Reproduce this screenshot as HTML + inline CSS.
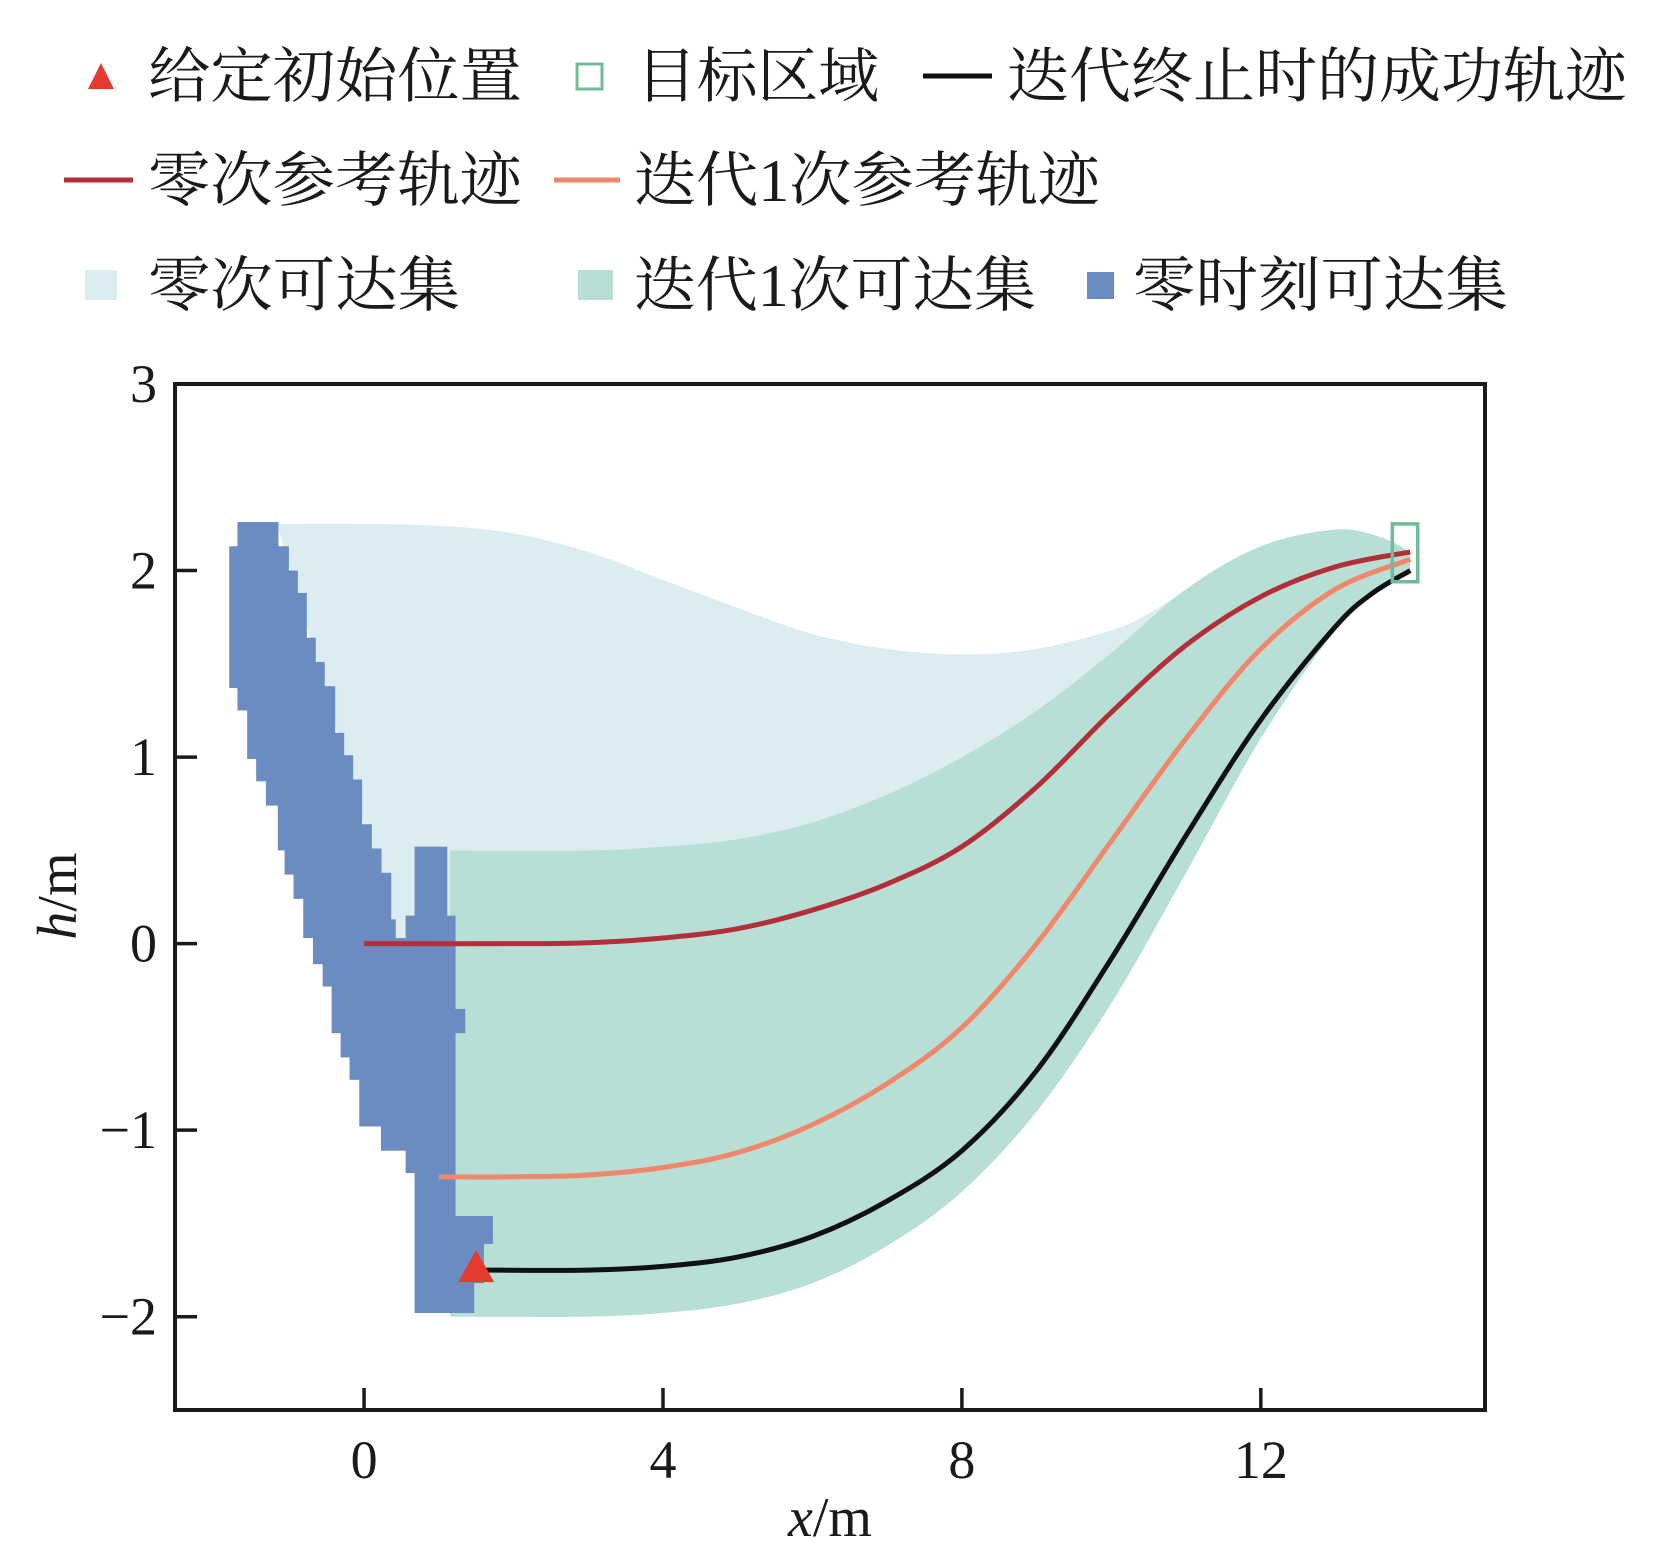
<!DOCTYPE html>
<html><head><meta charset="utf-8"><style>
html,body{margin:0;padding:0;background:#fff;}
svg{display:block;}
text{font-family:"Liberation Serif","Noto Serif CJK SC",serif;fill:#1a1a1a;}
</style></head><body>
<svg id="chart" width="1654" height="1543" viewBox="0 0 1654 1543" xmlns="http://www.w3.org/2000/svg">
<g id="legend">
  <g>
    <polygon points="101,63 88,89 114,89" fill="#e53a2e"/>
    <text x="148" y="97" font-size="60" textLength="374" lengthAdjust="spacingAndGlyphs">给定初始位置</text>
  </g>
  <g>
    <rect x="577" y="64" width="25" height="25" fill="none" stroke="#6fbc97" stroke-width="3"/>
    <text x="636" y="97" font-size="60" textLength="243" lengthAdjust="spacingAndGlyphs">目标区域</text>
  </g>
  <g>
    <line x1="923" y1="76" x2="992" y2="76" stroke="#111" stroke-width="5"/>
    <text x="1007" y="97" font-size="60" textLength="620" lengthAdjust="spacingAndGlyphs">迭代终止时的成功轨迹</text>
  </g>
  <g>
    <line x1="64" y1="180" x2="133" y2="180" stroke="#b22f3a" stroke-width="5"/>
    <text x="148" y="201" font-size="60" textLength="374" lengthAdjust="spacingAndGlyphs">零次参考轨迹</text>
  </g>
  <g>
    <line x1="554" y1="180" x2="620" y2="180" stroke="#f0866a" stroke-width="5"/>
    <text x="634" y="201" font-size="60" textLength="466" lengthAdjust="spacingAndGlyphs">迭代1次参考轨迹</text>
  </g>
  <g>
    <rect x="85" y="270" width="32" height="30" fill="#dcedf2"/>
    <text x="148" y="306" font-size="60" textLength="312" lengthAdjust="spacingAndGlyphs">零次可达集</text>
  </g>
  <g>
    <rect x="578" y="270" width="35" height="30" fill="#b7dfd5"/>
    <text x="634" y="306" font-size="60" textLength="402" lengthAdjust="spacingAndGlyphs">迭代1次可达集</text>
  </g>
  <g>
    <rect x="1087" y="272" width="27" height="27" fill="#6a8cc0"/>
    <text x="1133" y="306" font-size="60" textLength="375" lengthAdjust="spacingAndGlyphs">零时刻可达集</text>
  </g>
</g>
<g id="plot"></g>
</svg>
<script>
const xTicks = [0, 4, 8, 12];
const yTicks = [-2, -1, 0, 1, 2, 3];
const yTickLabels = ["−2", "−1", "0", "1", "2", "3"];
// light-blue zero-order reachable set top boundary
const lbTopX = [-1.15, 0, 1, 2, 3, 4, 5, 6, 7, 8, 9, 10, 10.5, 11];
const lbTopY = [2.25, 2.25, 2.24, 2.2, 2.1, 1.95, 1.8, 1.66, 1.58, 1.55, 1.58, 1.68, 1.77, 1.9];
// green iteration-1 reachable set
const gTopX = [1.15, 3, 4, 5, 6, 7, 8, 9, 10, 11, 12, 13, 13.6, 14];
const gTopY = [0.5, 0.5, 0.52, 0.56, 0.65, 0.8, 1.0, 1.25, 1.56, 1.9, 2.13, 2.22, 2.18, 2.1];
const gBotX = [1.3, 3, 4, 5, 6, 7, 8, 9, 10, 11, 12, 13, 13.6, 14];
const gBotY = [-2, -2, -1.98, -1.93, -1.82, -1.62, -1.33, -0.9, -0.32, 0.38, 1.1, 1.68, 1.9, 2.0];
// zero-time reachable set columns
const bX0 = [-1.80,-1.69,-1.56,-1.44,-1.31,-1.15,-1.06,-1.01,-0.94,-0.89,-0.81,-0.77,-0.68,-0.65,-0.55,-0.53,-0.43,-0.39,-0.31,-0.27,-0.19,-0.15,-0.06,-0.03,0.10,0.19,0.23,0.36,0.42,0.56,0.68,1.11,1.22,1.22,1.47,1.60];
const bX1 = [-1.69,-1.56,-1.44,-1.31,-1.15,-1.06,-1.01,-0.94,-0.89,-0.81,-0.77,-0.68,-0.65,-0.55,-0.53,-0.43,-0.39,-0.31,-0.27,-0.19,-0.15,-0.06,-0.03,0.10,0.19,0.23,0.36,0.42,0.56,0.68,1.11,1.22,1.35,1.47,1.60,1.72];
const bBot = [1.37,1.25,0.99,0.87,0.74,0.50,0.37,0.37,0.24,0.24,0.03,0.03,-0.11,-0.11,-0.23,-0.23,-0.48,-0.48,-0.61,-0.61,-0.73,-0.73,-0.98,-0.98,-0.98,-0.98,-1.11,-1.11,-1.11,-1.23,-1.98,-1.98,-0.48,-1.98,-1.82,-1.61];
const bTop = [2.13,2.26,2.26,2.26,2.26,2.13,2.13,2.0,2.0,1.88,1.88,1.64,1.64,1.51,1.51,1.38,1.38,1.13,1.13,1.01,1.01,0.88,0.88,0.64,0.51,0.51,0.38,0.13,0.03,0.15,0.52,0.15,-0.35,-1.46,-1.46,-1.46];
// trajectories
const redX = [0, 2, 3, 4, 5, 6, 7, 8, 9, 10, 11, 12, 13, 14];
const redY = [0, 0, 0.005, 0.03, 0.08, 0.18, 0.32, 0.52, 0.84, 1.24, 1.6, 1.86, 2.02, 2.1];
const orX = [1, 2, 3, 4, 5, 6, 7, 8, 9, 10, 11, 12, 13, 14];
const orY = [-1.25, -1.25, -1.24, -1.2, -1.12, -0.97, -0.75, -0.45, 0.0, 0.55, 1.1, 1.58, 1.9, 2.06];
const blkX = [1.5, 3, 4, 5, 6, 7, 8, 9, 10, 11, 12, 13, 13.5, 14];
const blkY = [-1.75, -1.75, -1.73, -1.68, -1.57, -1.38, -1.11, -0.68, -0.08, 0.58, 1.2, 1.7, 1.88, 2.0];
const startX = [1.5], startY = [-1.75];
const targetX = [13.76, 14.1], targetY = [1.94, 2.25];

const L = 175, R = 1485, T = 384, B = 1410;
const xMin = -2.53, xMax = 15.0, yMin = -2.5, yMax = 3.0;
const sx = v => L + (v - xMin) / (xMax - xMin) * (R - L);
const sy = v => B - (v - yMin) / (yMax - yMin) * (B - T);
const NS = "http://www.w3.org/2000/svg";
const plot = document.getElementById('plot');
function mk(tag, attrs, parent) {
  const e = document.createElementNS(NS, tag);
  for (const k in attrs) e.setAttribute(k, attrs[k]);
  (parent || plot).appendChild(e);
  return e;
}
function spline(xs, ys, move) {
  const p = xs.map((x, i) => [sx(x), sy(ys[i])]);
  let d = (move ? "M" : "L") + p[0][0] + "," + p[0][1];
  for (let i = 0; i < p.length - 1; i++) {
    const p0 = p[Math.max(0, i - 1)], p1 = p[i], p2 = p[i + 1], p3 = p[Math.min(p.length - 1, i + 2)];
    const c1 = [p1[0] + (p2[0] - p0[0]) / 6, p1[1] + (p2[1] - p0[1]) / 6];
    const c2 = [p2[0] - (p3[0] - p1[0]) / 6, p2[1] - (p3[1] - p1[1]) / 6];
    d += "C" + c1[0] + "," + c1[1] + " " + c2[0] + "," + c2[1] + " " + p2[0] + "," + p2[1];
  }
  return d;
}
const rev = a => a.slice().reverse();
// light blue set
let d = spline(lbTopX, lbTopY, true) + spline(rev(gTopX.slice(0, 10)), rev(gTopY.slice(0, 10)), false)
  + "L" + sx(1.15) + "," + sy(0) + "L" + sx(0.45) + "," + sy(0) + "L" + sx(-1.2) + "," + sy(2.3) + "Z";
let e = mk('path', {d: d, fill: '#dcedf2'});


// green set
d = spline(gTopX, gTopY, true) + spline(rev(gBotX), rev(gBotY), false) + "L" + sx(1.15) + "," + sy(-2) + "Z";
e = mk('path', {d: d, fill: '#b7dfd5'});


// blue columns
const bg = mk('g', {});


for (let i = 0; i < bX0.length; i++) {
  const r = mk('rect', {x: sx(bX0[i]) - 0.3, y: sy(bTop[i]), width: sx(bX1[i]) - sx(bX0[i]) + 0.6, height: sy(bBot[i]) - sy(bTop[i]), fill: '#6a8cc0'}, bg);
  
  
}
// trajectories
function line(xs, ys, col, w, name) {
  const p = mk('path', {d: spline(xs, ys, true), fill: 'none', stroke: col, 'stroke-width': w});
  
  
}
line(redX, redY, '#b22f3a', 5, 'zero-reference-trajectory');
line(orX, orY, '#f0866a', 5, 'iter1-reference-trajectory');
line(blkX, blkY, '#111', 5, 'final-success-trajectory');
// start triangle
const tx = sx(startX[0]), ty = sy(startY[0]);
e = mk('polygon', {points: `${tx},${ty - 20} ${tx - 18},${ty + 12} ${tx + 18},${ty + 12}`, fill: '#e53a2e'});


// target region
e = mk('rect', {x: sx(targetX[0]), y: sy(targetY[1]), width: sx(targetX[1]) - sx(targetX[0]), height: sy(targetY[0]) - sy(targetY[1]), fill: 'none', stroke: '#6fbc97', 'stroke-width': 3.5});


// frame
e = mk('rect', {x: L, y: T, width: R - L, height: B - T, fill: 'none', stroke: '#1a1a1a', 'stroke-width': 4});


// x ticks
xTicks.forEach(v => {
  const t = mk('line', {x1: sx(v), x2: sx(v), y1: B, y2: B - 22, stroke: '#1a1a1a', 'stroke-width': 3.5});
  
  
  const lb = mk('text', {x: sx(v), y: B + 68, 'font-size': 54, 'text-anchor': 'middle'});
  lb.textContent = String(v);
  
  
});
yTicks.forEach((v, i) => {
  if (v !== 3) {
    const t = mk('line', {x1: L, x2: L + 22, y1: sy(v), y2: sy(v), stroke: '#1a1a1a', 'stroke-width': 3.5});
    
    
  }
  const lb = mk('text', {x: L - 18, y: sy(v) + 18, 'font-size': 54, 'text-anchor': 'end'});
  lb.textContent = yTickLabels[i];
  
  
});
// axis titles
e = mk('text', {x: 830, y: 1536, 'font-size': 56, 'text-anchor': 'middle'});
e.innerHTML = '<tspan font-style="italic">x</tspan>/m';


e = mk('text', {x: 0, y: 0, 'font-size': 56, 'text-anchor': 'middle', transform: 'translate(76,896) rotate(-90)'});
e.innerHTML = '<tspan font-style="italic">h</tspan>/m';


</script>
</body></html>
